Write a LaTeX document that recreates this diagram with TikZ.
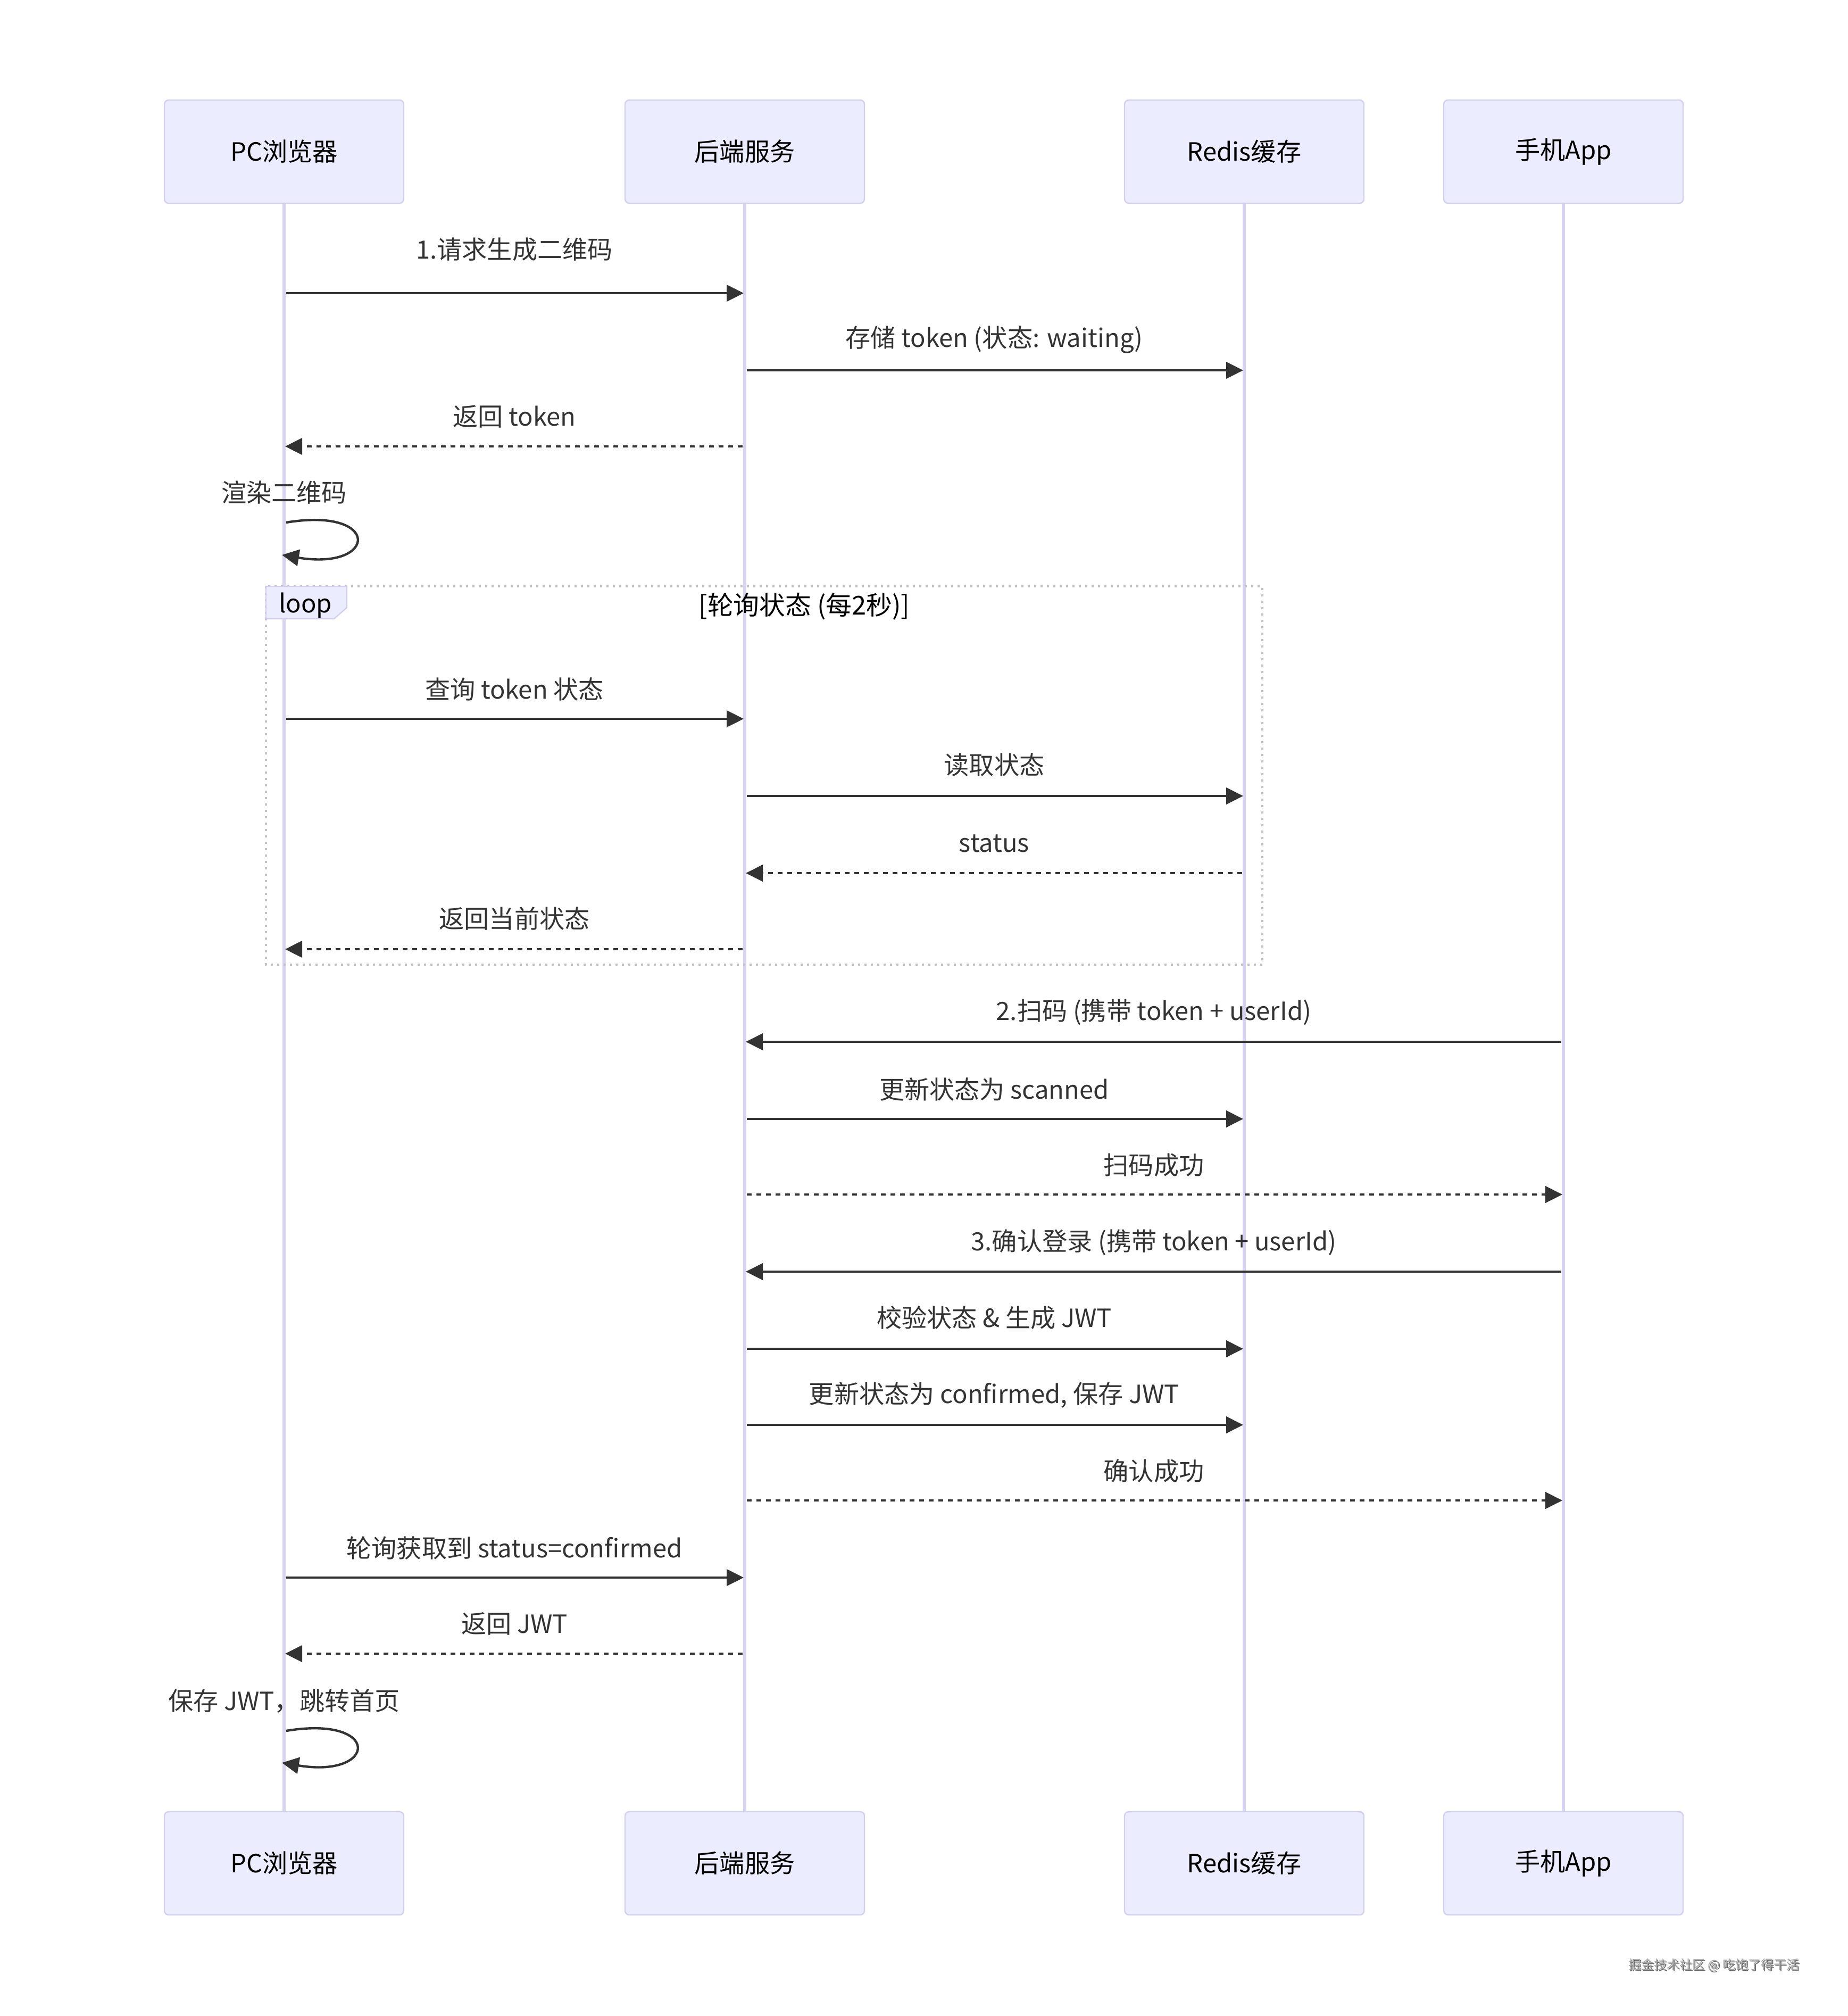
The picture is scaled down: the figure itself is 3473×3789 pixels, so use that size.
\documentclass[tikz,border=0pt]{standalone}
\usepackage{fontspec}
\setmainfont{Noto Sans CJK SC}
\usetikzlibrary{arrows.meta,calc}
\definecolor{actorfill}{HTML}{ECECFF}
\definecolor{actorborder}{HTML}{D3CFF0}
\definecolor{lifecol}{HTML}{D8D3F5}
\definecolor{msgcol}{HTML}{333333}
\definecolor{loopcol}{HTML}{C2C2C8}
\definecolor{wmcol}{HTML}{A8A8A8}
\definecolor{wmshadow}{HTML}{6A6A6A}
\begin{document}
\begin{tikzpicture}[x=0.25pt,y=-0.25pt,
  txt/.style={font=\fontsize{11.8pt}{14pt}\selectfont, inner sep=0pt},
  actor/.style={txt, draw=actorborder, fill=actorfill, line width=0.6pt, rounded corners=2pt,
    minimum width=112.5pt, minimum height=48.5pt, text=black},
  lifeline/.style={draw=lifecol, line width=1.4pt},
  msg/.style={draw=msgcol, line width=1.1pt, -{Triangle[length=8pt,width=7.75pt]},
    shorten <=1pt, shorten >=0.5pt},
  reply/.style={msg, dash pattern=on 2.25pt off 2.25pt},
  lbl/.style={txt, text=msgcol},
  looplbl/.style={txt, text=black},
]
\useasboundingbox (0,0) rectangle (3473,3789);
\fill[white] (0,0) rectangle (3473,3789);

% actors
\node[actor] (pcT) at (534,285) {PC浏览器};
\node[actor] (beT) at (1400,285) {后端服务};
\node[actor] (rdT) at (2339,285) {Redis缓存};
\node[actor] (mbT) at (2939,285) {手机App};
\node[actor] (pcB) at (534,3502) {PC浏览器};
\node[actor] (beB) at (1400,3502) {后端服务};
\node[actor] (rdB) at (2339,3502) {Redis缓存};
\node[actor] (mbB) at (2939,3502) {手机App};

% lifelines
\draw[lifeline] (pcT) -- (pcB);
\draw[lifeline] (beT) -- (beB);
\draw[lifeline] (rdT) -- (rdB);
\draw[lifeline] (mbT) -- (mbB);

% loop frame
\draw[loopcol, line width=1pt, dash pattern=on 1pt off 2pt] (500,1102) rectangle (2373,1813);
\draw[fill=actorfill, draw=actorborder, line width=0.6pt]
  (500,1102) -- (652,1102) -- (652,1142) -- (628,1163) -- (500,1163) -- cycle;
\node[looplbl] (looptag) at (574,1138) {loop};
\node[looplbl, font=\fontsize{12.2pt}{14pt}\selectfont] (looptitle) at (1512,1140) {[轮询状态 (每2秒)]};

% messages
\node[lbl] (m1) at (967,469) {1.请求生成二维码};
\draw[msg] (pcT |- 0,551) -- (beT |- 0,551);

\node[lbl] (m2) at (1869,638) {存储 token (状态: waiting)};
\draw[msg] (beT |- 0,696) -- (rdT |- 0,696);

\node[lbl] (m3) at (967,783) {返回 token};
\draw[reply] (beT |- 0,839) -- (pcT |- 0,839);

\node[lbl] (m4) at (534,926) {渲染二维码};
\draw[msg, shorten <=0pt, shorten >=0pt] ($(pcT |- 0,982)+(4,0)$) .. controls +(180,-30) and +(180,30) .. ($(pcT |- 0,1043)+(-4,0)$);

\node[lbl] (m6) at (967,1295) {查询 token 状态};
\draw[msg] (pcT |- 0,1351) -- (beT |- 0,1351);

\node[lbl] (m7) at (1869,1438) {读取状态};
\draw[msg] (beT |- 0,1496) -- (rdT |- 0,1496);

\node[lbl] (m8) at (1869,1585) {status};
\draw[reply] (rdT |- 0,1641) -- (beT |- 0,1641);

\node[lbl] (m9) at (967,1726) {返回当前状态};
\draw[reply] (beT |- 0,1784) -- (pcT |- 0,1784);

\node[lbl] (m10) at (2169,1902) {2.扫码 (携带 token + userId)};
\draw[msg] (mbT |- 0,1958) -- (beT |- 0,1958);

\node[lbl] (m11) at (1869,2047) {更新状态为 scanned};
\draw[msg] (beT |- 0,2103) -- (rdT |- 0,2103);

\node[lbl] (m12) at (2169,2190) {扫码成功};
\draw[reply] (beT |- 0,2245) -- (mbT |- 0,2245);

\node[lbl] (m13) at (2169,2335) {3.确认登录 (携带 token + userId)};
\draw[msg] (mbT |- 0,2390) -- (beT |- 0,2390);

\node[lbl] (m14) at (1869,2477) {校验状态 \& 生成 JWT};
\draw[msg] (beT |- 0,2535) -- (rdT |- 0,2535);

\node[lbl] (m15) at (1869,2622) {更新状态为 confirmed, 保存 JWT};
\draw[msg] (beT |- 0,2678) -- (rdT |- 0,2678);

\node[lbl] (m16) at (2169,2765) {确认成功};
\draw[reply] (beT |- 0,2820) -- (mbT |- 0,2820);

\node[lbl] (m17) at (967,2910) {轮询获取到 status=confirmed};
\draw[msg] (pcT |- 0,2965) -- (beT |- 0,2965);

\node[lbl] (m18) at (967,3052) {返回 JWT};
\draw[reply] (beT |- 0,3108) -- (pcT |- 0,3108);

\node[lbl] (m19) at (534,3197) {保存 JWT，跳转首页};
\draw[msg, shorten <=0pt, shorten >=0pt] ($(pcT |- 0,3253)+(4,0)$) .. controls +(180,-30) and +(180,30) .. ($(pcT |- 0,3313)+(-4,0)$);

% watermark
\node[txt, font=\fontsize{6pt}{7pt}\selectfont, text=wmshadow] (wmsh) at (3224,3695) {掘金技术社区 @ 吃饱了得干活};
\node[txt, font=\fontsize{6pt}{7pt}\selectfont, text=wmcol] (wm) at (3222,3693) {掘金技术社区 @ 吃饱了得干活};
\end{tikzpicture}
\end{document}
